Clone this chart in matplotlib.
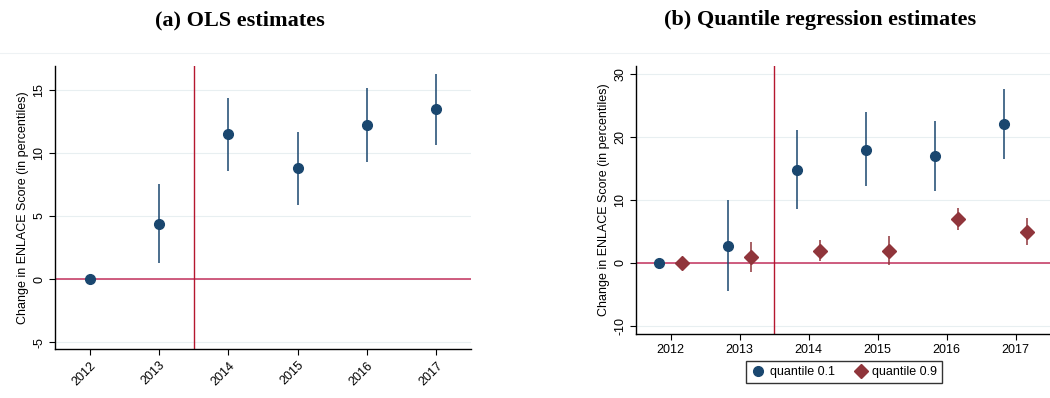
import numpy as np
import matplotlib
matplotlib.use("Agg")
import matplotlib.pyplot as plt

plt.rcParams['font.family'] = ['Liberation Sans', 'DejaVu Sans']

years = np.array([2012, 2013, 2014, 2015, 2016, 2017])

# (a) OLS
ols_est = [0.0, 4.4, 11.5, 8.8, 12.2, 13.45]
ols_lo = [0.0, 1.3, 8.6, 5.9, 9.3, 10.6]
ols_hi = [0.0, 7.5, 14.4, 11.7, 15.15, 16.3]

# (b) quantile regression
q10_est = [0.0, 2.75, 14.8, 18.0, 17.0, 22.05]
q10_lo = [0.0, -4.45, 8.5, 12.2, 11.4, 16.5]
q10_hi = [0.0, 9.95, 21.05, 23.9, 22.6, 27.55]
q90_est = [0.0, 0.95, 1.95, 1.95, 6.95, 4.95]
q90_lo = [0.0, -1.45, 0.3, -0.3, 5.2, 2.8]
q90_hi = [0.0, 3.35, 3.6, 4.25, 8.8, 7.1]

navy = "#1a476f"
maroon = "#90353b"
hline_col = "#c8416a"
vline_col = "#b5172f"
grid_col = "#e8eff1"

fig = plt.figure(figsize=(10.5, 3.98), dpi=100)
ax1 = fig.add_axes([55/1050, 1-349/398, (471-55)/1050, (349-66)/398])
ax2 = fig.add_axes([636/1050, 1-334/398, (1050-636)/1050, (334-66)/398])

# faint top border line of the graph region
fig.add_artist(plt.Line2D([0, 1], [1-53/398, 1-53/398], color="#eef2f4", lw=0.8))

def style(ax, yt, ylim):
    ax.set_xlim(2011.5, 2017.5)
    ax.set_ylim(*ylim)
    ax.set_yticks(yt)
    ax.set_yticklabels([str(t) for t in yt], rotation=90, va="center")
    ax.set_xticks(years)
    for s in ["top", "right"]:
        ax.spines[s].set_visible(False)
    ax.spines["left"].set_linewidth(1.0)
    ax.spines["bottom"].set_linewidth(1.0)
    for t in yt:
        ax.axhline(t, color=grid_col, lw=0.8, zorder=0)
    ax.axhline(0, color=hline_col, lw=1.2, zorder=1)
    ax.axvline(2013.5, color=vline_col, lw=1.0, zorder=1)
    ax.tick_params(axis="y", labelsize=9, length=4, pad=3)
    ax.tick_params(axis="x", labelsize=9, length=4)
    ax.set_ylabel("Change in ENLACE Score (in percentiles)", fontsize=9, labelpad=3)

style(ax1, [-5, 0, 5, 10, 15], (-5.55, 16.9))
ax1.vlines(years, ols_lo, ols_hi, color=navy, lw=1.1, zorder=2)
ax1.plot(years, ols_est, "o", color=navy, ms=7, zorder=3)
ax1.set_xticklabels([str(y) for y in years], rotation=45, ha="right", rotation_mode="anchor")

style(ax2, [-10, 0, 10, 20, 30], (-11.27, 31.27))
off = 0.17
ax2.vlines(years - off, q10_lo, q10_hi, color=navy, lw=1.1, zorder=2)
ax2.plot(years - off, q10_est, "o", color=navy, ms=7, zorder=3, label="quantile 0.1")
ax2.vlines(years + off, q90_lo, q90_hi, color=maroon, lw=1.1, zorder=2)
ax2.plot(years + off, q90_est, "D", color=maroon, ms=7, zorder=3, label="quantile 0.9")
ax2.legend(loc="center", bbox_to_anchor=(844/1050, 1-372/398), bbox_transform=fig.transFigure,
           ncol=2, fontsize=9, frameon=True, fancybox=False, edgecolor="black",
           handletextpad=0.3, columnspacing=1.5, borderpad=0.4, handlelength=1.2)

fig.text(240/1050, 1-20/398, "(a) OLS estimates", ha="center", va="center",
         fontsize=16, fontweight="bold", family="Liberation Serif")
fig.text(820/1050, 1-20/398, "(b) Quantile regression estimates", ha="center", va="center",
         fontsize=16, fontweight="bold", family="Liberation Serif")

fig.savefig("out.png", dpi=100)
